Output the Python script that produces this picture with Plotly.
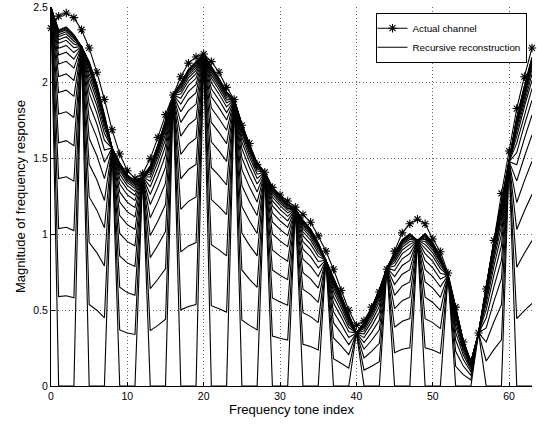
import plotly.graph_objects as go

# ---------------- data ----------------
tones = list(range(64))

actual_channel = [
    2.36, 2.44, 2.46, 2.43, 2.35, 2.23, 2.07, 1.89,
    1.69, 1.53, 1.42, 1.37, 1.40, 1.50, 1.64, 1.79,
    1.92, 2.04, 2.13, 2.17, 2.19, 2.14, 2.07, 1.97,
    1.89, 1.72, 1.60, 1.46, 1.41, 1.31, 1.26, 1.22,
    1.18, 1.13, 1.08, 0.99, 0.89, 0.77, 0.63, 0.50,
    0.40, 0.43, 0.52, 0.62, 0.77, 0.89, 1.01, 1.07,
    1.10, 1.07, 0.97, 0.886, 0.745, 0.52, 0.29, 0.16,
    0.35, 0.64, 0.96, 1.27, 1.55, 1.83, 2.04, 2.23,
]

# converged (limit) value of the recursive reconstruction at each tone
reconstruction_limit = [
    2.50, 2.36, 2.38, 2.33, 2.24, 2.15, 2.00, 1.80,
    1.57, 1.48, 1.40, 1.36, 1.38, 1.46, 1.60, 1.76,
    1.92, 2.01, 2.10, 2.15, 2.19, 2.12, 2.04, 1.95,
    1.89, 1.74, 1.60, 1.48, 1.41, 1.32, 1.26, 1.21,
    1.17, 1.10, 1.04, 0.95, 0.83, 0.72, 0.60, 0.47,
    0.35, 0.42, 0.52, 0.64, 0.78, 0.88, 0.97, 1.01,
    0.96, 1.01, 0.95, 0.86, 0.73, 0.52, 0.30, 0.16,
    0.35, 0.66, 0.96, 1.22, 1.48, 1.78, 1.99, 2.18,
]

# pilot tones (known at every iteration)
pilot_tones = list(range(0, 64, 4))

# fraction of the converged value reached at each iteration (non-pilot tones)
iteration_fraction = [
    0.0, 0.25, 0.44, 0.58, 0.68, 0.76, 0.82, 0.865, 0.90, 0.925,
    0.944, 0.958, 0.968, 0.976, 0.982, 0.987, 0.990, 0.993, 0.995,
]

x_ticks = [0, 10, 20, 30, 40, 50, 60]
y_ticks = [0, 0.5, 1, 1.5, 2, 2.5]
y_tick_labels = ["0", "0.5", "1", "1.5", "2", "2.5"]

# ---------------- figure ----------------
fig = go.Figure()

for k, frac in enumerate(iteration_fraction):
    yk = [reconstruction_limit[t] if t in pilot_tones else frac * reconstruction_limit[t]
          for t in tones]
    fig.add_trace(go.Scatter(
        x=tones, y=yk, mode="lines",
        line=dict(color="black", width=1.1),
        name="Recursive reconstruction",
        showlegend=(k == 0), legendrank=2, hoverinfo="skip",
    ))

fig.add_trace(go.Scatter(
    x=tones, y=actual_channel, mode="lines+markers",
    line=dict(color="black", width=1.1),
    marker=dict(symbol="asterisk-open", size=7, color="black",
                line=dict(color="black", width=1.1)),
    name="Actual channel", legendrank=1, cliponaxis=False,
))

FAMILY = "Liberation Sans, Arial, Helvetica, sans-serif"
title_font = dict(family=FAMILY, size=13, color="black")
tick_font = dict(family=FAMILY, size=10.5, color="black")

fig.update_layout(
    width=537, height=424,
    margin=dict(l=51, r=5, t=7, b=38, autoexpand=False),
    paper_bgcolor="white", plot_bgcolor="white",
    font=tick_font,
    showlegend=True,
    legend=dict(
        x=1.0 - 5.5 / 481, y=0.985, xanchor="right", yanchor="top",
        bgcolor="white", bordercolor="black", borderwidth=1,
        font=dict(family=FAMILY, size=9.8, color="black"),
        tracegroupgap=0, itemwidth=30, indentation=-4,
    ),
)

grid = dict(showgrid=True, gridcolor="#666666", griddash="1px,2.5px", gridwidth=1)

fig.update_xaxes(
    range=[0, 63], tickvals=x_ticks, ticktext=[str(v) for v in x_ticks],
    ticks="inside", ticklen=4, tickcolor="black", tickfont=tick_font,
    showline=True, linecolor="black", linewidth=1, mirror=False,
    zeroline=False, automargin=False, **grid,
    title=dict(text="Frequency tone index", standoff=1, font=title_font),
)
fig.update_yaxes(
    range=[0, 2.5], tickvals=y_ticks, ticktext=y_tick_labels,
    ticks="inside", ticklen=4, tickcolor="black", tickfont=tick_font,
    showline=True, linecolor="black", linewidth=1, mirror=False,
    zeroline=False, automargin=False, **grid,
    title=dict(text="Magnitude of frequency response", standoff=4, font=title_font),
)

fig.write_html(
    "out.html",
    config={"displayModeBar": False},
    post_script="document.body.style.margin='0';document.body.style.overflow='hidden';",
)
